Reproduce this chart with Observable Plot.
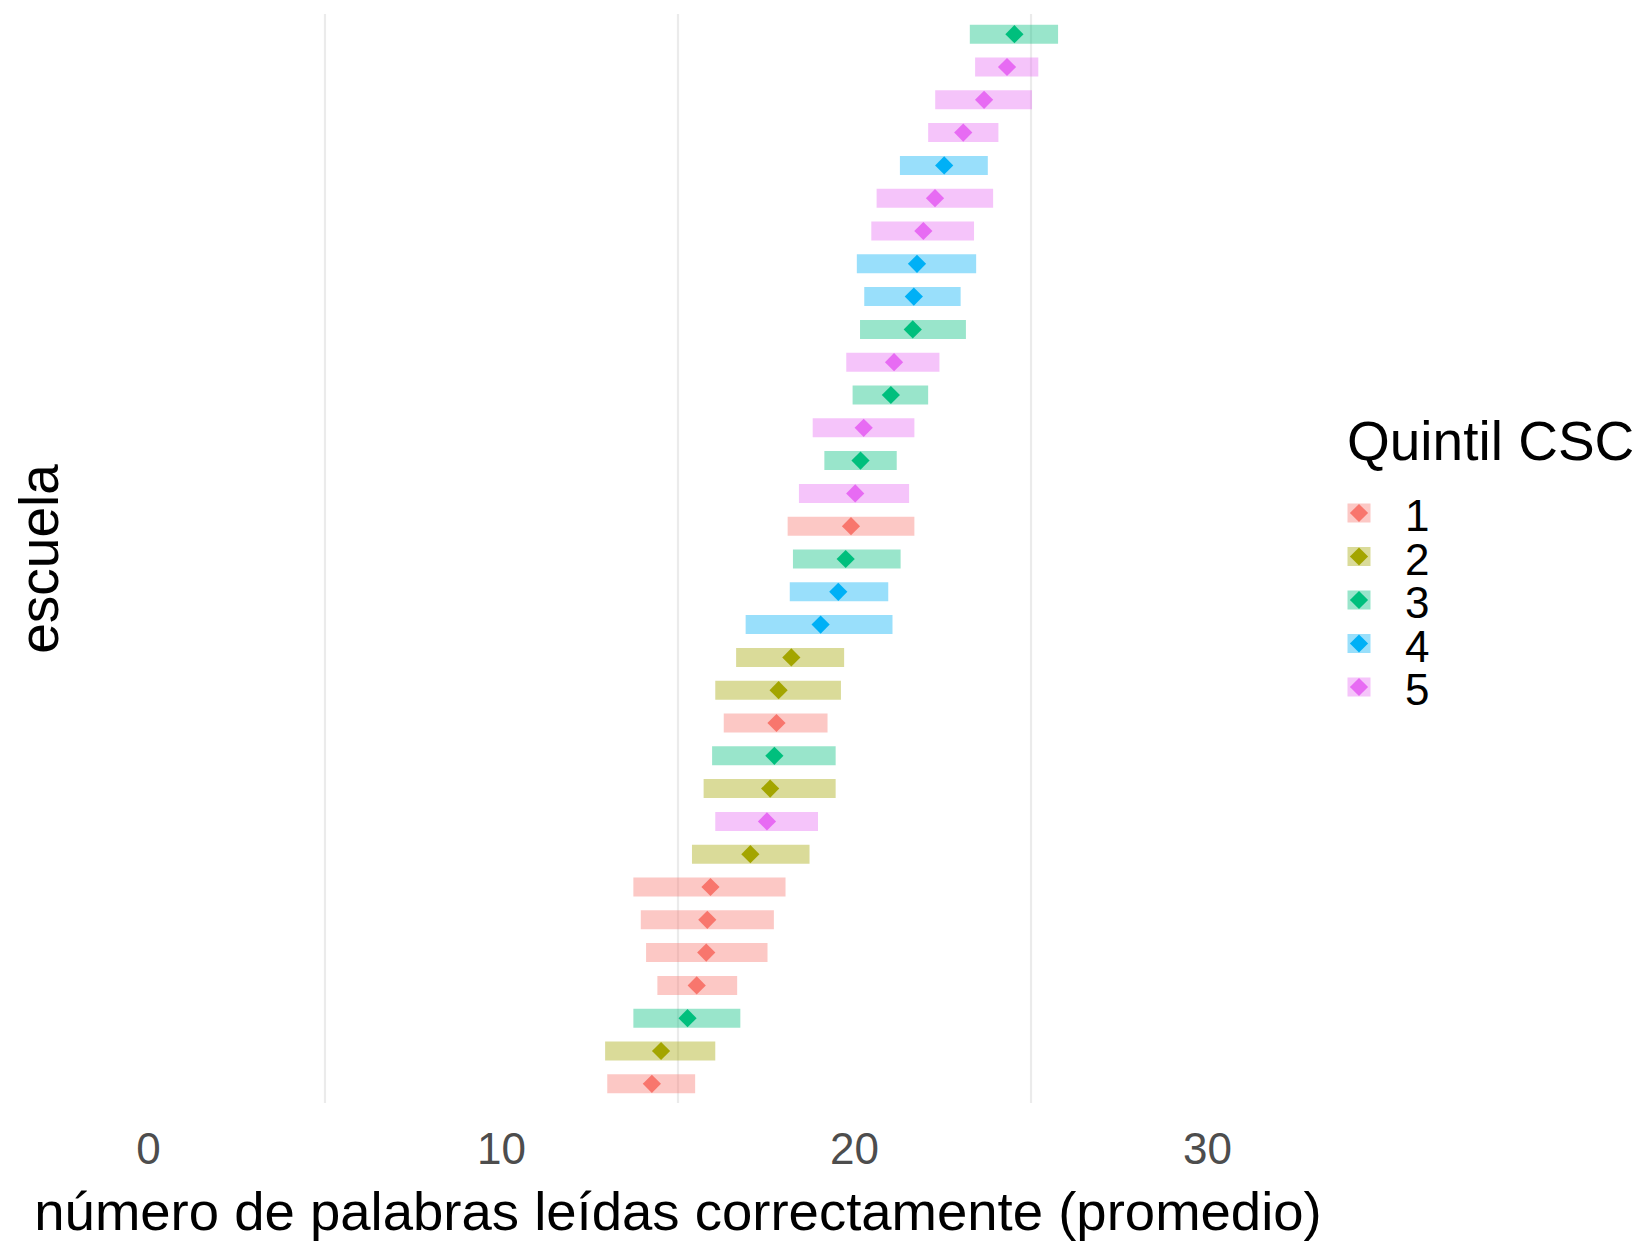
<!DOCTYPE html>
<html>
<head>
<meta charset="utf-8">
<script src="https://cdn.jsdelivr.net/npm/d3@7"></script>
<script src="https://cdn.jsdelivr.net/npm/@observablehq/plot@0.6"></script>
<style>
  html, body { margin: 0; padding: 0; background: #fff; }
  #wrap { position: relative; width: 1644px; height: 1242px; font-family: "Liberation Sans", Arial, sans-serif; }
  #legend { position: absolute; left: 1300px; top: 380px; }
</style>
</head>
<body>
<div id="wrap"><div id="chart"></div><div id="legend"></div></div>
<script>
// Data (top row to bottom row)
const escuelas = ["E01","E02","E03","E04","E05","E06","E07","E08","E09","E10","E11","E12","E13","E14","E15","E16","E17","E18","E19","E20","E21","E22","E23","E24","E25","E26","E27","E28","E29","E30","E31","E32","E33"];
const quintiles = ["3","5","5","5","4","5","5","4","4","3","5","3","5","3","5","1","3","4","4","2","2","1","3","2","5","2","1","1","1","1","3","2","1"];
const bajos = [23.28,23.43,22.30,22.10,21.30,20.64,20.49,20.08,20.29,20.17,19.78,19.96,18.83,19.16,18.44,18.12,18.27,18.18,16.93,16.66,16.07,16.31,15.98,15.74,16.07,15.41,13.75,13.96,14.11,14.43,13.75,12.95,13.01];
const altos = [25.78,25.22,25.04,24.09,23.79,23.94,23.40,23.46,23.02,23.17,22.42,22.10,21.71,21.21,21.56,21.71,21.32,20.97,21.09,19.72,19.63,19.25,19.48,19.48,18.98,18.74,18.06,17.73,17.55,16.69,16.78,16.07,15.50];
const promedios = [24.53,24.32,23.67,23.08,22.54,22.28,21.95,21.77,21.68,21.65,21.12,21.03,20.26,20.17,20.02,19.90,19.75,19.54,19.04,18.21,17.85,17.79,17.73,17.61,17.52,17.05,15.92,15.83,15.80,15.53,15.27,14.52,14.26];
const quintilDomain = ["1","2","3","4","5"];
const quintilColors = ["#F8766D","#A3A500","#00BF7D","#00B0F6","#E76BF3"];
const xTicks = [0, 10, 20, 30];
const gridX = [5, 15, 25];
const xLabel = "número de palabras leídas correctamente (promedio)";
const yLabel = "escuela";
const legendTitle = "Quintil CSC";

const data = escuelas.map((e, i) => ({escuela: e, fila: i, quintil: quintiles[i], bajo: bajos[i], alto: altos[i], promedio: promedios[i]}));
const n = escuelas.length;

const font = "'Liberation Sans', Arial, sans-serif";
const chart = Plot.plot({
  width: 1644,
  height: 1242,
  marginLeft: 95,
  marginRight: 384,
  marginTop: 14,
  marginBottom: 139,
  style: {fontFamily: font, background: "#fff"},
  x: {domain: [-1.5, 31.5]},
  y: {domain: [n - 1 + 0.6, -0.6], axis: null},
  color: {type: "ordinal", domain: quintilDomain, range: quintilColors},
  marks: [
    Plot.ruleX(gridX, {stroke: "#EBEBEB", strokeWidth: 2.2}),
    Plot.ruleY(data, {y: "fila", x1: "bajo", x2: "alto", stroke: "quintil", strokeOpacity: 0.4, strokeWidth: 19}),
    Plot.dot(data, {y: "fila", x: "promedio", fill: "quintil", symbol: "diamond2", r: 8.2, stroke: null}),
    Plot.axisX({ticks: xTicks, tickSize: 0, tickPadding: 29, fontSize: 44, fill: "#4D4D4D", label: null}),
    Plot.text([xLabel], {frameAnchor: "bottom", text: d => d, fontSize: 54.5, fill: "#000", lineAnchor: "bottom", dy: 126, textAnchor: "middle"}),
    Plot.text([yLabel], {frameAnchor: "left", text: d => d, fontSize: 55, fill: "#000", lineAnchor: "bottom", rotate: -90, dx: -38, textAnchor: "middle"})
  ]
});
document.getElementById("chart").appendChild(chart);

// Legend
const lg = d3.select("#legend").append("svg").attr("width", 344).attr("height", 340).style("font-family", font);
lg.append("text").attr("x", 47).attr("y", 80).attr("font-size", 55).attr("fill", "#000").text(legendTitle);
const keyY = [133, 176.5, 220, 263.5, 307];
const sym = d3.symbol(d3.symbolDiamond2, Math.PI * 8.2 * 8.2)();
quintilDomain.forEach((q, i) => {
  const g = lg.append("g").attr("transform", `translate(59,${keyY[i]})`);
  g.append("rect").attr("x", -11.5).attr("y", -9.5).attr("width", 23).attr("height", 19).attr("fill", quintilColors[i]).attr("fill-opacity", 0.4);
  g.append("path").attr("d", sym).attr("fill", quintilColors[i]);
  lg.append("text").attr("x", 105).attr("y", keyY[i] + 3).attr("dy", "0.35em").attr("font-size", 44).attr("fill", "#000").text(q);
});
</script>
</body>
</html>
